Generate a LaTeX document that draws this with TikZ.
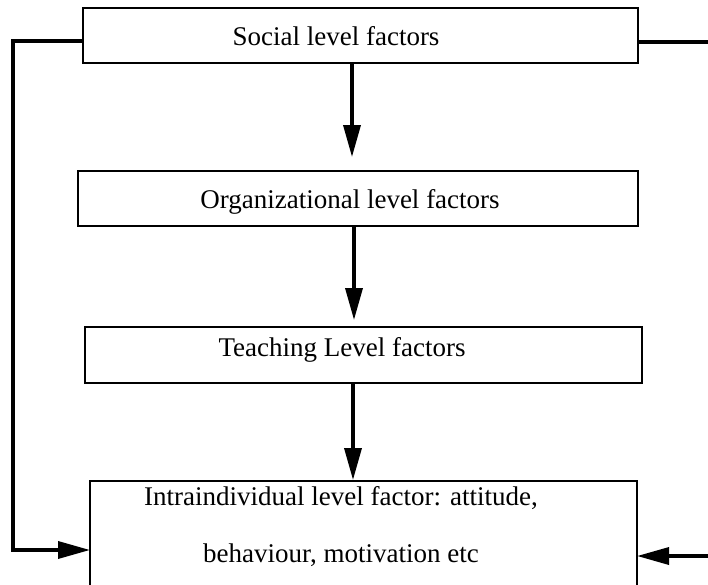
\documentclass[tikz,border=0pt]{standalone}
\usepackage{fontspec}
\setmainfont{Liberation Serif}
\usetikzlibrary{arrows.meta}
\begin{document}
\begin{tikzpicture}[x=1pt,y=-1pt,
  box/.style={draw, line width=2.2pt, rectangle, inner sep=0pt, outer sep=0pt},
  lbl/.style={anchor=base, inner sep=0pt, font=\fontsize{27}{32}\selectfont},
  link/.style={line width=3.5pt},
  arr/.style={line width=3.5pt, -{Triangle[length=32pt,width=17pt]}}]
  \useasboundingbox (0,0) rectangle (708,584);
  \clip (0,0) rectangle (708,584);
  \fill[white] (0,0) rectangle (708,584);

  % level boxes
  \node[box, minimum width=555pt, minimum height=55pt] (social) at (360.5,35.5) {};
  \node[box, minimum width=560pt, minimum height=55pt] (org) at (358,198.5) {};
  \node[box, minimum width=557pt, minimum height=56pt] (teach) at (363.5,355) {};
  \node[box, minimum width=547pt, minimum height=119pt] (indiv) at (363.5,540.5) {};

  % box texts
  \node[lbl] (tsocial) at (336,45) {Social level factors};
  \node[lbl] (torg) at (350,208) {Organizational level factors};
  \node[lbl] (tteach) at (342,356) {Teaching Level factors};
  \node[lbl] (tindiv1) at (341,505) {Intraindividual level factor: attitude,};
  \node[lbl] (tindiv2) at (341,562) {behaviour, motivation etc};

  % downward flow
  \coordinate (a1) at (352,0);
  \coordinate (a2) at (354,0);
  \coordinate (a3) at (353,0);
  \draw[arr, shorten >=14pt] (social.south -| a1) -- (org.north -| a1);
  \draw[arr, shorten >=7pt] (org.south -| a2) -- (teach.north -| a2);
  \draw[arr, shorten >=1pt] (teach.south -| a3) -- (indiv.north -| a3);

  % feedback lines on both sides
  \draw[arr] ([yshift=-5.5pt]social.west) -- ++(-70,0) |- ([yshift=-9.5pt]indiv.west);
  \coordinate (rtop) at (714,42);
  \coordinate (rbot) at (714,556);
  \draw[link] ([yshift=-6.5pt]social.east) -- (rtop);
  \draw[arr] (rbot) -- ([yshift=-15.5pt]indiv.east);
\end{tikzpicture}
\end{document}
